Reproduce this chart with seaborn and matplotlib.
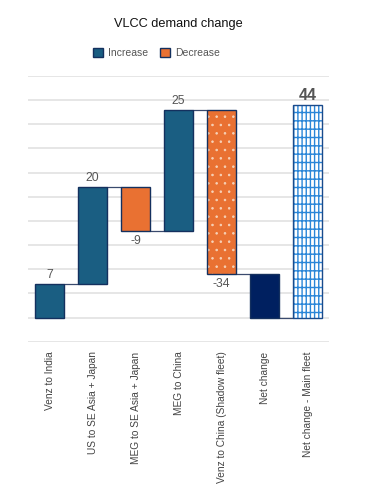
import matplotlib
matplotlib.use("Agg")
import matplotlib.pyplot as plt
import matplotlib.patches as mpatches
import seaborn as sns

# data
categories = ["Venz to India", "US to SE Asia + Japan", "MEG to SE Asia + Japan",
              "MEG to China", "Venz to China (Shadow fleet)", "Net change",
              "Net change - Main fleet"]
changes = [7, 20, -9, 25, -34]
main_fleet = 44

# waterfall geometry from the changes
running = []
total = 0
for v in changes:
    total += v
    running.append(total)
net = total

bottoms = []
heights = []
prev = 0
for v, cum in zip(changes, running):
    bottoms.append(min(prev, cum))
    heights.append(abs(v))
    prev = cum
bottoms += [0, 0]
heights += [net, main_fleet]

c_inc = "#1a5e82"
c_dec = "#e97132"
c_net = "#002060"
c_edge = "#14305e"
c_grid_blue = "#2a86d8"

sns.set_style("white")
plt.rcParams["font.family"] = ["Liberation Sans", "DejaVu Sans"]
plt.rcParams["hatch.linewidth"] = 1.0

fig = plt.figure(figsize=(3.8, 4.92), dpi=100)
ax = fig.add_axes([0.074, 0.3055, 0.792, 0.54])

bw = 0.667
sns.barplot(x=categories, y=heights, bottom=bottoms, order=categories,
            color=c_inc, errorbar=None, width=bw, ax=ax,
            edgecolor=c_edge, linewidth=1.0, zorder=3)

bars = ax.patches[:len(categories)]
for i, p in enumerate(bars):
    if i < len(changes):
        p.set_facecolor(c_inc if changes[i] > 0 else c_dec)
    elif i == len(changes):
        p.set_facecolor(c_net)

# shadow fleet: orange with small white dots
p = bars[4]
p.set_edgecolor("#f6d2b8")
p.set_hatch("..")
p.set_linewidth(0)
if hasattr(p, "set_hatch_linewidth"):
    p.set_hatch_linewidth(0.6)
ax.add_patch(mpatches.Rectangle(p.get_xy(), p.get_width(), p.get_height(),
                                fill=False, edgecolor=c_edge, lw=1.0, zorder=4))

# main fleet: white with blue grid
p = bars[6]
p.set_facecolor("white")
p.set_edgecolor(c_grid_blue)
p.set_hatch("||||--")
p.set_linewidth(0)
ax.add_patch(mpatches.Rectangle(p.get_xy(), p.get_width(), p.get_height(),
                                fill=False, edgecolor="#1a4b8c", lw=1.0, zorder=4))

# connectors
levels = running + [0]
for i, lv in enumerate(levels):
    ax.plot([i + bw / 2, i + 1 - bw / 2], [lv, lv], color="#3a4a6e", lw=0.9, zorder=2)

# value labels
for i, v in enumerate(changes):
    if v > 0:
        ax.annotate(str(v), (i, bottoms[i] + heights[i]), xytext=(0, 2),
                    textcoords="offset points", ha="center", va="bottom",
                    fontsize=8.8, color="#555555")
    else:
        ax.annotate(str(v), (i, bottoms[i]), xytext=(0, -3),
                    textcoords="offset points", ha="center", va="top",
                    fontsize=8.8, color="#555555")
ax.annotate(str(main_fleet), (6, main_fleet), xytext=(0, 1.5),
            textcoords="offset points", ha="center", va="bottom",
            fontsize=11.5, fontweight="bold", color="#555555")

ax.set_ylim(-5, 50)
ax.set_xlim(-0.5, len(categories) - 0.5)
ax.set_yticks(range(-5, 55, 5))
ax.set_yticklabels([])
ax.tick_params(axis="y", length=0)
ax.tick_params(axis="x", length=0, pad=7, labelsize=7.3, labelcolor="#444444")
plt.setp(ax.get_xticklabels(), rotation=90)
ax.yaxis.grid(True, color="#e2e2e2", lw=1.2)
ax.set_axisbelow(True)
ax.set_xlabel("")
for s in ax.spines.values():
    s.set_visible(False)

fig.text(0.469, 1 - 24 / 492, "VLCC demand change", ha="center", va="center",
         fontsize=9.2, color="#111111")

handles = [mpatches.Patch(facecolor=c_inc, edgecolor=c_edge, lw=1, label="Increase"),
           mpatches.Patch(facecolor=c_dec, edgecolor=c_edge, lw=1, label="Decrease")]
fig.legend(handles=handles, loc="center", bbox_to_anchor=(156.5 / 380, 1 - 53 / 492),
           ncol=2, frameon=False, fontsize=7.5, handlelength=0.9, handleheight=0.9,
           handletextpad=0.5, columnspacing=1.2, labelcolor="#555555")

fig.savefig("out.png", dpi=100)
